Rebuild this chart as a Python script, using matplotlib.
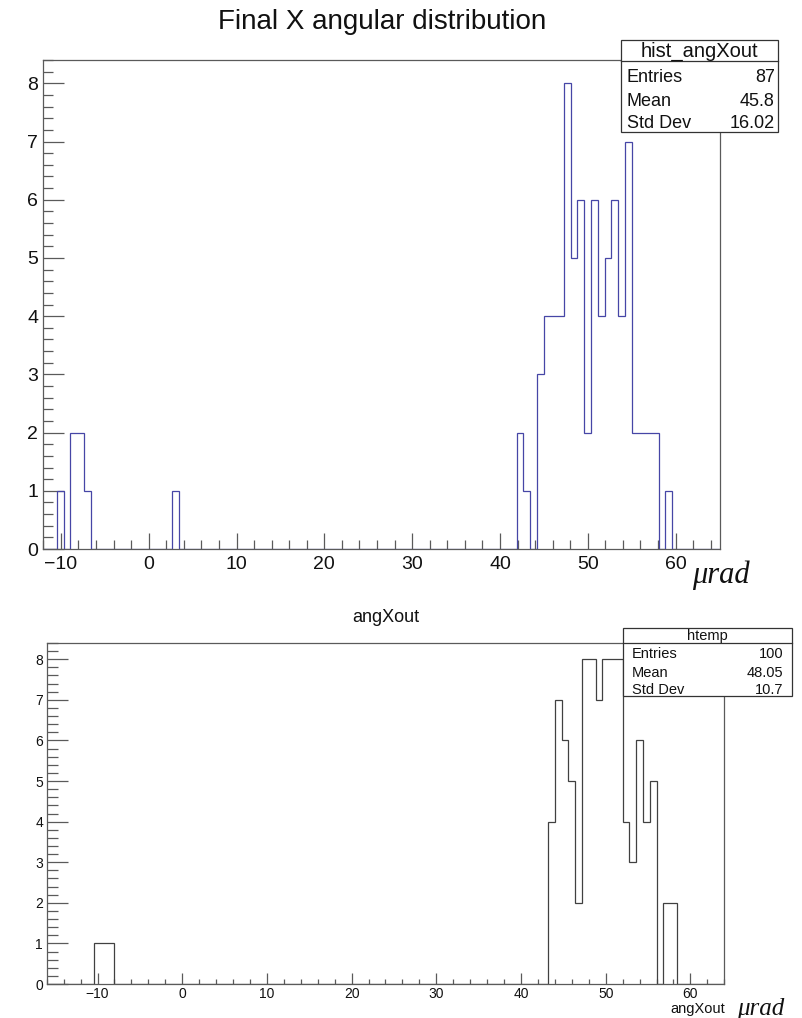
import numpy as np
import matplotlib
matplotlib.use("Agg")
import matplotlib.pyplot as plt
from matplotlib.ticker import MultipleLocator
from matplotlib.patches import Rectangle
from matplotlib.lines import Line2D

plt.rcParams['font.family'] = ['Liberation Sans', 'DejaVu Sans']

# ---------------- data ----------------
# Top histogram: hist_angXout, 100 bins on [-12, 65]
top_range = (-12.0, 65.0)
top_nbins = 100
top_values = [-10.1, -8.5, -7.8, -7.0, 3.0, 42.3, 43.1, 44.6, 45.4, 46.1, 46.9,
              47.7, 48.4, 49.2, 50.0, 50.8, 51.5, 52.3, 53.1, 53.8, 54.6, 55.4,
              56.1, 56.9, 57.7, 59.2]
top_counts = [1, 2, 2, 1, 1, 2, 1, 3, 4, 4, 4, 8, 5, 6, 2, 6, 4, 5, 6, 4, 7, 2,
              2, 2, 2, 1]
top_stats_title = "hist_angXout"
top_stats_names = ["Entries", "Mean", "Std Dev"]
top_stats_vals = ["87", "45.8", "16.02"]

# Bottom histogram: htemp, 100 bins on [-16, 64]
bot_range = (-16.0, 64.0)
bot_nbins = 100
bot_values = [-10.0, -9.2, -8.4, 43.6, 44.4, 45.2, 46.0, 46.8, 47.6, 48.4, 49.2,
              50.0, 50.8, 51.6, 52.4, 53.2, 54.0, 54.8, 55.6, 57.2, 58.0]
bot_counts = [1, 1, 1, 4, 7, 6, 5, 2, 8, 8, 7, 8, 8, 8, 4, 3, 6, 4, 5, 2, 2]
bot_stats_title = "htemp"
bot_stats_names = ["Entries", "Mean", "Std Dev"]
bot_stats_vals = ["100", "48.05", "10.7"]

top_title = "Final X angular distribution"
bot_title = "angXout"
unit_label = "\u03bcrad"
ymax = 8.4

# ---------------- figure ----------------
W, H = 802, 1018
fig = plt.figure(figsize=(W / 100, H / 100), dpi=100)
fig.patch.set_facecolor('white')

def fx(x):
    return x / W

def fy(y):
    return 1 - y / H

axis_col = '#5a5a5a'

def style_axes(ax, xmaj_len, xmin_len, ymaj_len, ymin_len, lsize, xpad, ypad):
    for s in ax.spines.values():
        s.set_color(axis_col)
        s.set_linewidth(0.9)
    ax.xaxis.set_major_locator(MultipleLocator(10))
    ax.xaxis.set_minor_locator(MultipleLocator(2))
    ax.yaxis.set_major_locator(MultipleLocator(1))
    ax.yaxis.set_minor_locator(MultipleLocator(0.2))
    ax.tick_params(axis='both', which='both', direction='in', top=False,
                   right=False, color=axis_col, width=0.9, labelsize=lsize,
                   labelcolor='#111111')
    ax.tick_params(axis='x', which='major', length=xmaj_len, pad=xpad)
    ax.tick_params(axis='x', which='minor', length=xmin_len)
    ax.tick_params(axis='y', which='major', length=ymaj_len, pad=ypad)
    ax.tick_params(axis='y', which='minor', length=ymin_len)

# Top axes
ax1 = fig.add_axes([fx(43.3), fy(549), fx(719.5) - fx(43.3), fy(60) - fy(549)])
edges1 = np.linspace(top_range[0], top_range[1], top_nbins + 1)
ax1.hist(top_values, bins=edges1, weights=top_counts, histtype='step',
         color='#4646a6', linewidth=0.9)
ax1.set_xlim(*top_range)
ax1.set_ylim(0, ymax)
style_axes(ax1, 11.3, 6.5, 14.9, 7.2, 14, 5.0, 3.8)

# Bottom axes
ax2 = fig.add_axes([fx(46.7), fy(984), fx(724.3) - fx(46.7), fy(643) - fy(984)])
edges2 = np.linspace(bot_range[0], bot_range[1], bot_nbins + 1)
ax2.hist(bot_values, bins=edges2, weights=bot_counts, histtype='step',
         color='#404040', linewidth=0.9)
ax2.set_xlim(*bot_range)
ax2.set_ylim(0, ymax)
style_axes(ax2, 7.7, 3.6, 15.0, 7.9, 10, 2.2, 2.7)

# Titles and labels
fig.text(fx(382.5), fy(29.3), top_title, ha='center', va='baseline',
         fontsize=20, color='#111111')
fig.text(fx(385.5), fy(621.7), bot_title, ha='center', va='baseline',
         fontsize=13, color='#111111')
fig.text(fx(691.7), fy(583.3), unit_label, ha='left', va='baseline',
         fontsize=22, family='Liberation Serif', style='italic', color='#111111')
fig.text(fx(736.7), fy(1014.5), unit_label, ha='left', va='baseline',
         fontsize=18, family='Liberation Serif', style='italic', color='#111111')
fig.text(fx(725), fy(1013.5), bot_title, ha='right', va='baseline',
         fontsize=10.5, color='#111111')

# Stats boxes
def stats_box(x0, x1, y0, ysep, y1, title, names, vals, title_y, row_ys,
              tsize, rsize, xl, xr):
    rect = Rectangle((fx(x0), fy(y1)), fx(x1) - fx(x0), fy(y0) - fy(y1),
                     transform=fig.transFigure, facecolor='white',
                     edgecolor='#333333', linewidth=0.9, zorder=5)
    fig.add_artist(rect)
    fig.add_artist(Line2D([fx(x0), fx(x1)], [fy(ysep), fy(ysep)],
                          transform=fig.transFigure, color='#333333',
                          linewidth=0.9, zorder=6))
    fig.text(fx((x0 + x1) / 2), fy(title_y), title, ha='center', va='center',
             fontsize=tsize, color='#111111', zorder=7)
    for n, v, yy in zip(names, vals, row_ys):
        fig.text(fx(xl), fy(yy), n, ha='left', va='center', fontsize=rsize,
                 color='#111111', zorder=7)
        fig.text(fx(xr), fy(yy), v, ha='right', va='center', fontsize=rsize,
                 color='#111111', zorder=7)

stats_box(620.7, 778.3, 40, 61, 131.7, top_stats_title, top_stats_names,
          top_stats_vals, 51, [78, 101, 123.3], 14.5, 13, 626.7, 775)
stats_box(623.3, 792.3, 628.3, 643.3, 696, bot_stats_title, bot_stats_names,
          bot_stats_vals, 635.7, [654, 672.7, 690], 10.5, 10.5, 631.7, 783.3)

fig.savefig('out.png', dpi=100)
